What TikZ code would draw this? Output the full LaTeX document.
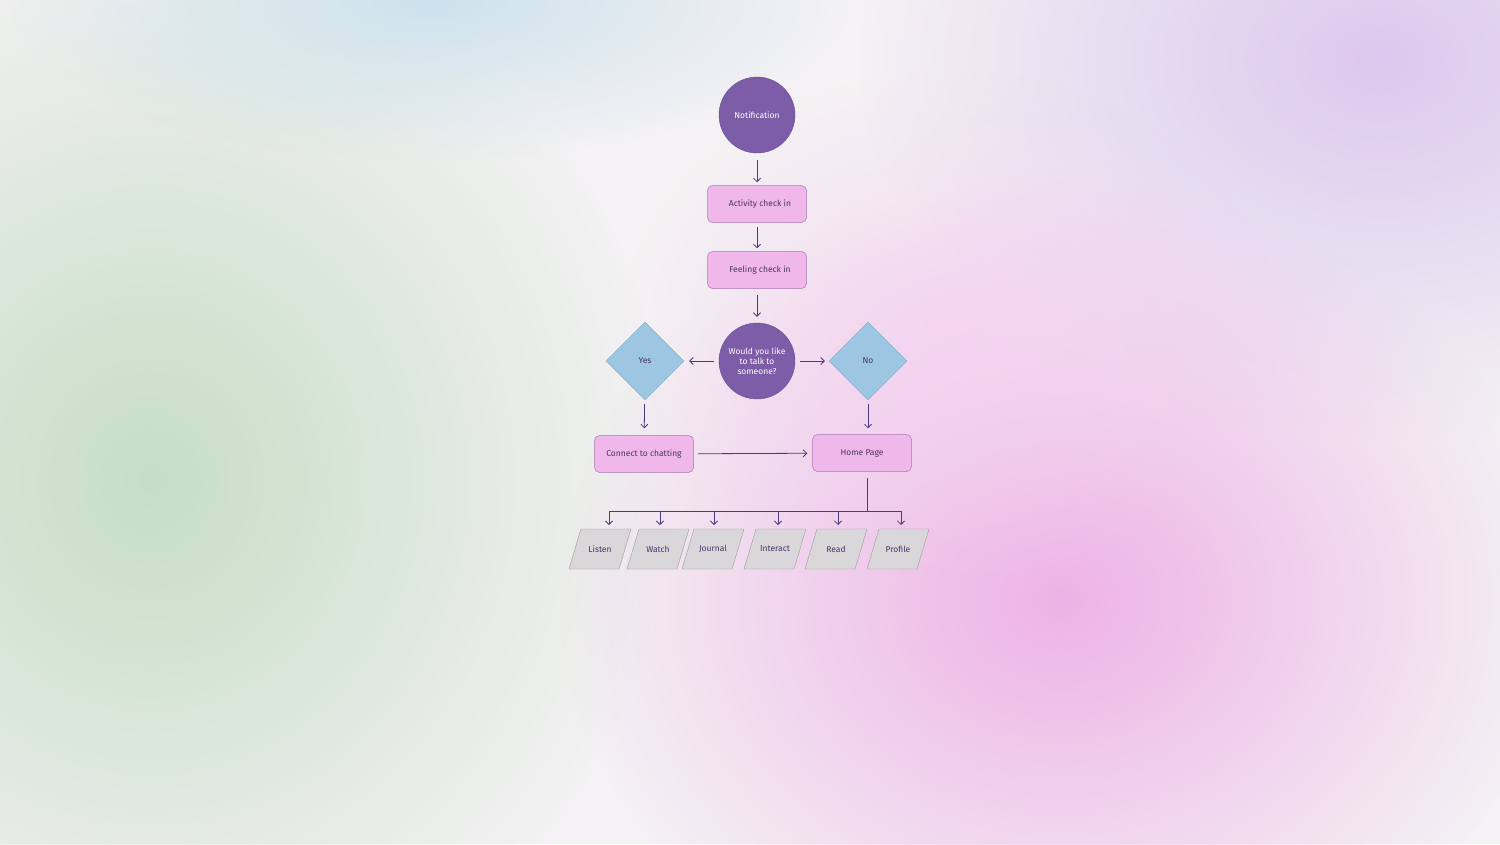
\documentclass[tikz,border=0pt]{standalone}
\usepackage{fontspec}
\setmainfont{Fira Sans}
\usetikzlibrary{shapes.geometric,arrows.meta,fadings,calc}
\tikzfading[name=softout, inner color=transparent!0, outer color=transparent!100]
\definecolor{bgc}{HTML}{F4F2F4}
\definecolor{circ}{HTML}{7D5CA8}
\definecolor{boxf}{HTML}{F0B8EA}
\definecolor{boxd}{HTML}{A57AAE}
\definecolor{dia}{HTML}{9CC6E2}
\definecolor{diad}{HTML}{7FA7C8}
\definecolor{para}{HTML}{D9D7D9}
\definecolor{parad}{HTML}{9A9A9A}
\definecolor{arr}{HTML}{4B3A7C}
\definecolor{txt}{HTML}{4A3468}
\definecolor{bgreen}{HTML}{C6DEC6}
\definecolor{bblue}{HTML}{CDE2EC}
\definecolor{blav}{HTML}{DCC8EE}
\definecolor{bpink}{HTML}{EEB2E6}
\begin{document}
\begin{tikzpicture}[x=1pt,y=-1pt,
  every node/.style={font=\fontsize{8.5}{10}\selectfont},
  circ/.style={circle,fill=circ,draw=circ!85!black,line width=0.4pt,minimum size=76pt,inner sep=0pt,text=white,align=center},
  box/.style={rounded corners=5pt,fill=boxf,draw=boxd,line width=0.5pt,minimum width=99pt,minimum height=37pt,text=txt},
  dia/.style={diamond,fill=dia,draw=diad,line width=0.4pt,minimum size=78pt,inner sep=0pt,text=txt},
  lab/.style={inner sep=0pt,text=txt},
  pg/.style={fill=para,draw=parad,line width=0.4pt},
  ar/.style={draw=arr,line width=0.8pt,-{Straight Barb[length=3.5pt,width=7pt]}}]
\useasboundingbox (0,0) rectangle (1500,844);
\fill[bgc] (0,0) rectangle (1500,844);
\fill[bgreen,path fading=softout] (150,480) ellipse (520 and 560);
\fill[bblue,path fading=softout] (430,0) ellipse (420 and 160);
\fill[blav,path fading=softout] (1380,60) ellipse (520 and 380);
\fill[bpink,path fading=softout] (1060,600) ellipse (500 and 420);
\fill[bpink!60!white,path fading=softout,fill opacity=0.7] (950,330) ellipse (330 and 260);

\node[circ] (n) at (757,115) {Notification};
\node[box] (a) at (757,204) {\hspace{6pt}Activity check in};
\node[box] (f) at (757,270) {\hspace{6pt}Feeling check in};
\node[circ] (q) at (757,361) {Would you like\\to talk to\\someone?};
\node[dia] (y) at (645,361) {Yes};
\node[dia] (no) at (868,361) {No};
\node[box] (c) at (644,454) {Connect to chatting};
\node[box] (h) at (862,453) {Home Page};

\foreach \nm/\x/\t in {l/600/Listen,w/658/Watch,j/713/Journal,i/775/Interact,r/836/Read,p/898/Profile}{
  \node[lab] (\nm) at (\x,549) {};
  \draw[pg] ($(\nm)+(-31,20)$) -- ($(\nm)+(-19,-20)$) -- ($(\nm)+(31,-20)$) -- ($(\nm)+(19,20)$) -- cycle;
  \node[lab] at (\nm) {\t};
}
\draw[ar,shorten <=7pt,shorten >=3pt] (n) -- (a);
\draw[ar,shorten <=4pt,shorten >=3pt] (a) -- (f);
\draw[ar,shorten <=6pt,shorten >=6pt] (f) -- (q);
\draw[ar,shorten <=5pt,shorten >=5pt] (q) -- (y);
\draw[ar,shorten <=5pt,shorten >=4pt] (q) -- (no);
\draw[ar,shorten <=4pt,shorten >=7pt] (y) -- (c);
\draw[ar,shorten <=4pt,shorten >=6pt] (no) -- (no|-h.north);
\draw[ar,shorten <=4pt,shorten >=5pt] (c) -- (h);
\coordinate (hb) at ($(h.south)+(5,6)$);
\coordinate (bus) at (867,511);
\draw[draw=arr,line width=0.8pt] (hb) -- (bus);
\draw[draw=arr,line width=0.8pt] (609,511) -- (901,511);
\foreach \nm/\x in {l/609,w/660,j/714,i/778,r/838,p/901}{
  \draw[ar] (\x,511) -- (\x,525);
}
\end{tikzpicture}
\end{document}
